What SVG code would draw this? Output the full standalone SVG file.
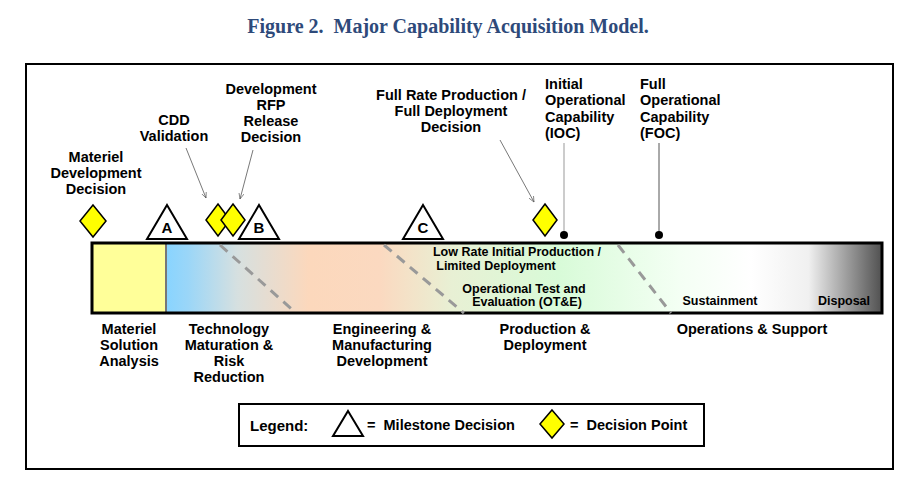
<svg xmlns="http://www.w3.org/2000/svg" width="920" height="503" viewBox="0 0 920 503">
<style>
text{font-family:"Liberation Sans",Arial,sans-serif;font-weight:bold;font-size:14.5px;fill:#000;white-space:pre}
.c{text-anchor:middle}
.s{font-size:12.5px}
.tri{fill:#fff;stroke:#000;stroke-width:2}
.dia{fill:#ffff00;stroke:#000;stroke-width:1.5}
.dash{stroke:#999;stroke-width:3;stroke-dasharray:10,7;fill:none}
.ptr{stroke:#555;stroke-width:0.8;fill:none}
</style>
<defs>
<linearGradient id="g" x1="166" x2="880" y1="0" y2="0" gradientUnits="userSpaceOnUse">
<stop offset="0" stop-color="#88d4ff"/>
<stop offset="0.03" stop-color="#9ad6f8"/>
<stop offset="0.1" stop-color="#d6e0e0"/>
<stop offset="0.2" stop-color="#fcd8bc"/>
<stop offset="0.3" stop-color="#fbd9c0"/>
<stop offset="0.4" stop-color="#e8f0d4"/>
<stop offset="0.55" stop-color="#d8fbd8"/>
<stop offset="0.72" stop-color="#f4fff4"/>
<stop offset="0.82" stop-color="#ffffff"/>
<stop offset="0.9" stop-color="#f0f0f0"/>
<stop offset="1" stop-color="#555"/>
</linearGradient>
<marker id="ah" viewBox="0 0 10 10" refX="9" refY="5" markerWidth="8" markerHeight="8" orient="auto"><path d="M0,1 L9,5 L0,9" fill="none" stroke="#555" stroke-width="1"/></marker>
</defs>
<rect width="920" height="503" fill="#fff"/>
<text x="448" y="33" class="c" style="font-family:'Liberation Serif',serif;font-size:20px;fill:#2e4a7a">Figure 2.  Major Capability Acquisition Model.</text>
<rect x="26" y="64" width="867" height="405" fill="none" stroke="#000" stroke-width="2"/>
<g id="bar">
<rect x="92" y="243" width="790" height="70" fill="url(#g)"/>
<rect x="92" y="243" width="74" height="70" fill="#ffff99"/>
<line x1="166" y1="243" x2="166" y2="313" stroke="#777" stroke-width="2"/>
<rect x="92" y="243" width="790" height="70" fill="none" stroke="#000" stroke-width="3"/>
</g>
<g id="connectors">
<line class="dash" x1="220" y1="245" x2="296" y2="313"/>
<line class="dash" x1="384" y1="245" x2="464" y2="313"/>
<line class="dash" x1="618" y1="245" x2="671" y2="313"/>
<path class="ptr" d="M186,148 L206,198" marker-end="url(#ah)"/>
<path class="ptr" d="M253,150 L240,199" marker-end="url(#ah)"/>
<path class="ptr" d="M500,140 L534,202" marker-end="url(#ah)"/>
<line x1="564" y1="143" x2="564" y2="234" stroke="#999" stroke-width="1"/>
<line x1="659" y1="143" x2="659" y2="234" stroke="#555" stroke-width="1"/>
<circle cx="564" cy="235" r="4"/>
<circle cx="659" cy="235" r="4"/>
</g>
<g id="milestones">
<polygon class="dia" points="93,205 106,221 93,237 80,221"/>
<polygon class="tri" points="167,205 187,239 147,239"/><text x="167" y="233" class="c" style="font-size:15px">A</text>
<polygon class="dia" points="218,204 230,220 218,236 206,220"/>
<polygon class="dia" points="233,204 245,220 233,236 221,220"/>
<polygon class="tri" points="259,205 279,239 239,239"/><text x="259" y="233" class="c" style="font-size:15px">B</text>
<polygon class="tri" points="423,205 443,239 403,239"/><text x="423" y="233" class="c" style="font-size:15px">C</text>
<polygon class="dia" points="545,204 557,220 545,236 533,220"/>
</g>
<g id="toplabels">
<text class="c" x="96" y="162">Materiel</text><text class="c" x="96" y="178">Development</text><text class="c" x="96" y="194">Decision</text>
<text class="c" x="174" y="125">CDD</text><text class="c" x="174" y="141">Validation</text>
<text class="c" x="271" y="94">Development</text><text class="c" x="271" y="110">RFP</text><text class="c" x="271" y="126">Release</text><text class="c" x="271" y="142">Decision</text>
<text class="c" x="451" y="100">Full Rate Production /</text><text class="c" x="451" y="116">Full Deployment</text><text class="c" x="451" y="132">Decision</text>
<text x="545" y="89">Initial</text><text x="545" y="105">Operational</text><text x="545" y="122">Capability</text><text x="545" y="138">(IOC)</text>
<text x="640" y="89">Full</text><text x="640" y="105">Operational</text><text x="640" y="122">Capability</text><text x="640" y="138">(FOC)</text>
</g>
<g id="barlabels">
<text class="c s" x="517" y="256">Low Rate Initial Production /</text><text class="c s" x="496" y="270">Limited Deployment</text>
<text class="c s" x="524" y="293">Operational Test and</text><text class="c s" x="527" y="306">Evaluation (OT&amp;E)</text>
<text class="c s" x="720" y="305">Sustainment</text>
<text class="c s" x="844" y="305">Disposal</text>
</g>
<g id="phases">
<text class="c" x="129" y="334">Materiel</text><text class="c" x="129" y="350">Solution</text><text class="c" x="129" y="366">Analysis</text>
<text class="c" x="229" y="334">Technology</text><text class="c" x="229" y="350">Maturation &amp;</text><text class="c" x="229" y="366">Risk</text><text class="c" x="229" y="382">Reduction</text>
<text class="c" x="382" y="334">Engineering &amp;</text><text class="c" x="382" y="350">Manufacturing</text><text class="c" x="382" y="366">Development</text>
<text class="c" x="545" y="334">Production &amp;</text><text class="c" x="545" y="350">Deployment</text>
<text class="c" x="752" y="334">Operations &amp; Support</text>
</g>
<g id="legend">
<rect x="239" y="404" width="465" height="42" fill="#fff" stroke="#000" stroke-width="2"/>
<text x="250" y="431" style="font-size:15px">Legend:</text>
<polygon class="tri" points="348,411 363,436 333,436"/>
<text x="367" y="430">=  Milestone Decision</text>
<polygon class="dia" points="552,410 564,424 552,438 540,424"/>
<text x="570" y="430">=  Decision Point</text>
</g>
</svg>
